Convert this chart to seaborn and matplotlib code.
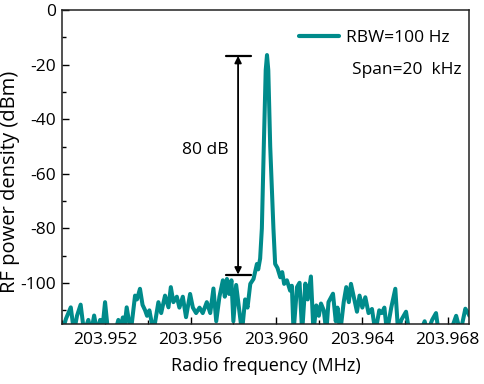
import numpy as np
import pandas as pd
import matplotlib
matplotlib.use("Agg")
import matplotlib.pyplot as plt
from matplotlib.lines import Line2D
import seaborn as sns

# RF spectrum (MHz, dBm); -118 marks troughs below the axis
freq = [203.95000, 203.95019, 203.95041, 203.95056, 203.95070, 203.95087, 203.95103,
        203.95123, 203.95136, 203.95150, 203.95164, 203.95178, 203.95187, 203.95201,
        203.95215, 203.95248, 203.95263, 203.95271, 203.95284, 203.95292, 203.95302,
        203.95321, 203.95341, 203.95350, 203.95364, 203.95376, 203.95388, 203.95397,
        203.95408, 203.95427, 203.95450, 203.95463, 203.95481, 203.95497, 203.95508,
        203.95520, 203.95536, 203.95548, 203.95564, 203.95579, 203.95598, 203.95611,
        203.95626, 203.95642, 203.95657, 203.95676, 203.95692, 203.95707, 203.95720,
        203.95735, 203.95751, 203.95760, 203.95770, 203.95780, 203.95791, 203.95800,
        203.95813, 203.95826, 203.95840, 203.95855, 203.95866, 203.95879, 203.95894,
        203.95910, 203.95916, 203.95925, 203.95933, 203.95942, 203.95951, 203.95957,
        203.95963, 203.95972, 203.95987, 203.95995, 203.96006, 203.96019, 203.96028,
        203.96037, 203.96050, 203.96065, 203.96073, 203.96081, 203.96097, 203.96109,
        203.96121, 203.96136, 203.96147, 203.96162, 203.96174, 203.96187, 203.96199,
        203.96209, 203.96222, 203.96234, 203.96244, 203.96265, 203.96278, 203.96286,
        203.96299, 203.96315, 203.96327, 203.96339, 203.96349, 203.96362, 203.96377,
        203.96389, 203.96402, 203.96416, 203.96431, 203.96447, 203.96463, 203.96481,
        203.96493, 203.96505, 203.96517, 203.96537, 203.96556, 203.96569, 203.96584,
        203.96606, 203.96621, 203.96650, 203.96673, 203.96693, 203.96706, 203.96728,
        203.96746, 203.96758, 203.96785, 203.96813, 203.96840, 203.96860, 203.96883,
        203.96896, 203.96902]
power = [-118, -113, -108.9, -118, -112, -107.9, -118,
         -113.5, -118, -111.9, -118, -113.5, -118, -107,
         -118, -118, -113.5, -118, -112.6, -116, -108.9,
         -118, -104.6, -106, -102.1, -108, -110, -112,
         -110, -118, -107, -111, -104.6, -108.9, -101.5,
         -107, -105, -109, -105, -112.5, -104, -109,
         -111, -109, -111, -107, -111, -102, -114,
         -105, -99, -105, -98.5, -104, -99, -114,
         -100.7, -109, -118, -106, -109, -100.3, -98.5,
         -93, -95, -91, -80, -50, -22, -16.5,
         -22, -50, -80, -93, -94.5, -97.9, -96,
         -100.3, -99, -102.8, -101, -118, -101.5, -99.9,
         -118, -100.2, -106, -97.6, -118, -108.2, -112,
         -107.5, -110, -118, -107, -103.9, -114, -109,
         -118, -107, -101.5, -107, -100.3, -105, -110.5,
         -104.6, -109, -105.2, -111, -109.5, -118, -110,
         -111, -109, -118, -109, -102.1, -118, -113.5,
         -110.5, -118, -118, -118, -114, -118, -113.5,
         -111, -118, -118, -118, -112, -118, -109.4,
         -111, -112]

x_ticks = [203.952, 203.956, 203.960, 203.964, 203.968]
y_ticks = [0, -20, -40, -60, -80, -100]

# 80 dB marker
arrow_freq = 203.95822
arrow_top = -16.8
arrow_bottom = -96.9
bar_left = 203.95765
bar_right = 203.95882

teal = "#008b8b"

sns.set_theme(style="ticks")
plt.rcParams['font.family'] = ['Open Sans', 'DejaVu Sans']
plt.rcParams['axes.unicode_minus'] = False
plt.rcParams['text.color'] = 'black'
plt.rcParams['axes.labelcolor'] = 'black'

df = pd.DataFrame({'freq': freq, 'power': power})

fig = plt.figure(figsize=(4.84, 3.84), dpi=100)
ax = fig.add_axes([62 / 484, 60 / 384, 407 / 484, 314 / 384])

sns.lineplot(data=df, x='freq', y='power', ax=ax, color=teal, linewidth=2.9,
             estimator=None, sort=False)

ax.set_xlim(203.950, 203.969)
ax.set_ylim(-115, 0)
ax.set_xticks(x_ticks)
ax.set_xticklabels([f"{t:.3f}" for t in x_ticks])
ax.set_xticks([203.950, 203.954, 203.958, 203.962, 203.966], minor=True)
ax.set_yticks(y_ticks)
ax.set_yticklabels([str(t) for t in y_ticks])
ax.set_yticks([-10, -30, -50, -70, -90, -110], minor=True)
ax.tick_params(axis='both', which='both', direction='in', labelsize=12.5,
               color='black', labelcolor='black', width=1.0)
ax.tick_params(which='major', length=5)
ax.tick_params(which='minor', length=3)
ax.tick_params(axis='x', pad=6)
ax.tick_params(axis='y', pad=4)
for s in ax.spines.values():
    s.set_linewidth(1.1)
    s.set_color('#222222')

ax.set_xlabel('Radio frequency (MHz)', fontsize=13, labelpad=6)
ax.set_ylabel('RF power density (dBm)', fontsize=14.5)
ax.yaxis.set_label_coords(-0.103, 0.452)

# 80 dB annotation
ax.annotate('', xy=(arrow_freq, arrow_top), xytext=(arrow_freq, arrow_bottom),
            arrowprops=dict(arrowstyle='<|-|>', color='black', lw=1.3,
                            mutation_scale=10, shrinkA=0, shrinkB=0))
ax.plot([bar_left, bar_right], [arrow_top, arrow_top], color='black', lw=1.6)
ax.plot([bar_left, bar_right], [arrow_bottom, arrow_bottom], color='black', lw=1.6)
ax.text(203.95668, -51.4, '80 dB', fontsize=12.5, ha='center', va='center')

handle = Line2D([], [], color=teal, linewidth=3.0)
ax.legend([handle], ['RBW=100 Hz'], loc='upper right', frameon=False,
          fontsize=12.5, handlelength=2.3, handletextpad=0.4,
          bbox_to_anchor=(0.99, 0.985))
ax.text(203.96355, -22, 'Span=20  kHz', fontsize=12.5, ha='left', va='center')

fig.savefig('out.png', dpi=100)
